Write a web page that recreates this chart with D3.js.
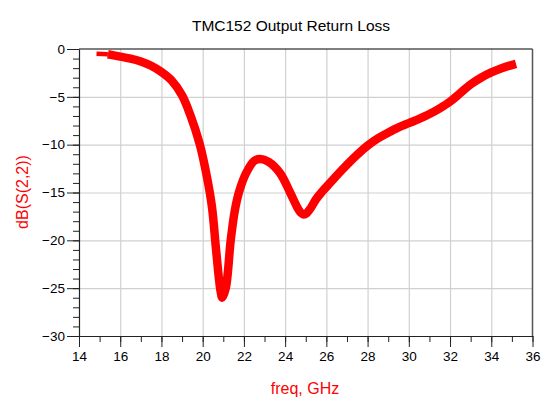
<!DOCTYPE html>
<html>
<head>
<meta charset="utf-8">
<script src="https://cdn.jsdelivr.net/npm/d3@7"></script>
<style>
body { margin: 0; background: #fff; }
text { font-family: "Liberation Sans", Arial, sans-serif; }
</style>
</head>
<body>
<script>
// frequency points (GHz) and return loss (dB)
var freq = [15.4, 16, 16.5, 17, 17.5, 18, 18.5, 19, 19.4, 19.85, 20.2, 20.45, 20.65, 20.86, 20.95, 21.12, 21.36, 21.55, 21.77, 22.1, 22.5, 22.8, 23.2, 23.76, 24.24, 24.6, 24.75, 24.9, 25.05, 25.25, 25.5, 25.8, 26.2, 26.6, 27, 27.5, 28, 28.5, 29, 29.5, 30, 30.5, 31, 31.5, 32, 32.5, 33, 33.5, 34, 34.5, 35.2];
var s22 = [-0.55, -0.8, -1.0, -1.3, -1.75, -2.4, -3.3, -4.85, -6.9, -9.9, -13.3, -16.5, -21.0, -25.2, -26.0, -25.0, -20.0, -17.0, -14.9, -13.0, -11.7, -11.5, -11.8, -13.0, -15.0, -16.6, -17.1, -17.3, -17.15, -16.6, -15.7, -14.9, -13.95, -13.0, -12.1, -11.05, -10.1, -9.35, -8.75, -8.2, -7.75, -7.3, -6.8, -6.2, -5.5, -4.6, -3.7, -3.0, -2.45, -2.0, -1.55];
// short thin lead-in at the start of the trace
var leadFreq = [14.85, 15.4];
var leadS22 = [-0.5, -0.55];

var xTicks = [14, 16, 18, 20, 22, 24, 26, 28, 30, 32, 34, 36];
var yTicks = [0, -5, -10, -15, -20, -25, -30];

drawChart();

function drawChart() {
    var W = 549, H = 405;
    var pLeft = 79, pRight = 532.5, pTop = 49, pBottom = 336;

    var svg = d3.select("body").append("svg")
        .attr("width", W).attr("height", H);

    var x = d3.scaleLinear().domain([14, 36]).range([pLeft, pRight]);
    var y = d3.scaleLinear().domain([-30, 0]).range([pBottom, pTop]);

    // grid
    svg.append("g")
        .attr("transform", "translate(0," + pBottom + ")")
        .call(d3.axisBottom(x).tickValues(xTicks.slice(1, -1)).tickSize(-(pBottom - pTop)).tickFormat(""))
        .call(function(g) { g.select(".domain").remove(); })
        .selectAll("line").attr("stroke", "#d0d0d0").attr("stroke-width", 1.2);
    svg.append("g")
        .attr("transform", "translate(" + pLeft + ",0)")
        .call(d3.axisLeft(y).tickValues(yTicks.slice(1, -1)).tickSize(-(pRight - pLeft)).tickFormat(""))
        .call(function(g) { g.select(".domain").remove(); })
        .selectAll("line").attr("stroke", "#d0d0d0").attr("stroke-width", 1.2);

    // frame top and right
    svg.append("line").attr("x1", pLeft).attr("x2", pRight).attr("y1", pTop).attr("y2", pTop)
        .attr("stroke", "#000").attr("stroke-width", 1.2);
    svg.append("line").attr("x1", pRight).attr("x2", pRight).attr("y1", pTop).attr("y2", pBottom)
        .attr("stroke", "#555").attr("stroke-width", 1.5);

    // minor ticks
    svg.append("g")
        .attr("transform", "translate(0," + pBottom + ")")
        .call(d3.axisBottom(x).ticks(22).tickSize(6).tickSizeOuter(0).tickFormat(""))
        .call(function(g) { g.select(".domain").remove(); })
        .selectAll("line").attr("stroke", "#222");
    svg.append("g")
        .attr("transform", "translate(" + pLeft + ",0)")
        .call(d3.axisLeft(y).ticks(30).tickSize(6).tickSizeOuter(0).tickFormat(""))
        .call(function(g) { g.select(".domain").remove(); })
        .selectAll("line").attr("stroke", "#222");

    // major axes
    var xAxis = svg.append("g")
        .attr("transform", "translate(0," + pBottom + ")")
        .call(d3.axisBottom(x).tickValues(xTicks).tickSize(11).tickSizeOuter(0).tickPadding(4));
    var yAxis = svg.append("g")
        .attr("transform", "translate(" + pLeft + ",0)")
        .call(d3.axisLeft(y).tickValues(yTicks).tickSize(12).tickSizeOuter(0).tickPadding(2));
    [xAxis, yAxis].forEach(function(a) {
        a.selectAll("line").attr("stroke", "#222");
        a.select(".domain").attr("stroke", "#222").attr("stroke-width", 1.2);
        a.selectAll("text").attr("font-size", 13.5).attr("fill", "#000")
            .attr("font-family", "'Liberation Sans', Arial, sans-serif");
    });

    // trace
    var line = d3.line().x(function(d) { return x(d[0]); }).y(function(d) { return y(d[1]); })
        .curve(d3.curveCatmullRom.alpha(0.5));
    svg.append("path")
        .datum(d3.zip(leadFreq, leadS22))
        .attr("d", line)
        .attr("fill", "none").attr("stroke", "#ff0000").attr("stroke-width", 4.5);
    svg.append("path")
        .datum(d3.zip(freq, s22))
        .attr("d", line)
        .attr("fill", "none").attr("stroke", "#ff0000").attr("stroke-width", 8.5)
        .attr("stroke-linejoin", "round");

    // titles
    svg.append("text").attr("x", 291).attr("y", 31).attr("text-anchor", "middle")
        .attr("font-size", 15.5).attr("fill", "#000").text("TMC152 Output Return Loss");
    svg.append("text").attr("x", 305).attr("y", 394).attr("text-anchor", "middle")
        .attr("font-size", 16).attr("fill", "#ff0000").text("freq, GHz");
    svg.append("text")
        .attr("transform", "translate(28,192) rotate(-90)")
        .attr("text-anchor", "middle")
        .attr("font-size", 16).attr("fill", "#ff0000").text("dB(S(2,2))");
}
</script>
</body>
</html>
